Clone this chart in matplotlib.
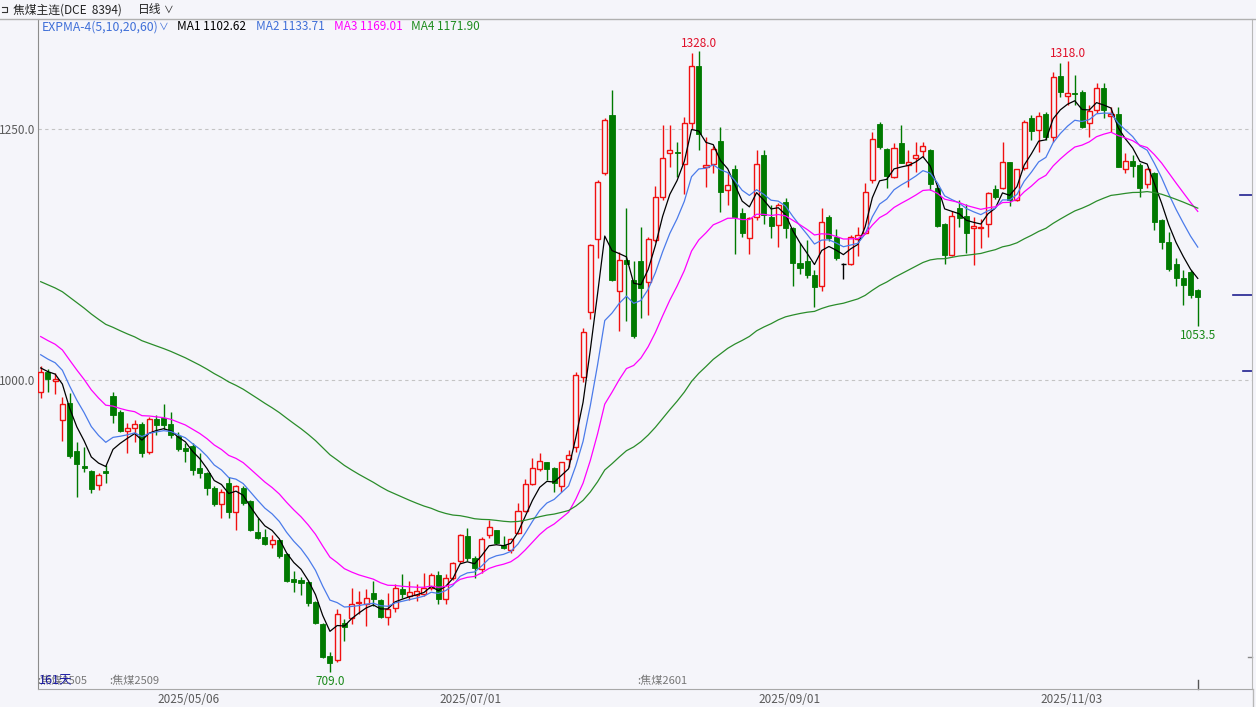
import matplotlib
matplotlib.use('Agg')
import matplotlib.pyplot as plt
import matplotlib.transforms as mtransforms
from matplotlib.lines import Line2D
import numpy as np

plt.rcParams['font.family'] = ['Noto Sans CJK SC', 'DejaVu Sans']

# daily OHLC, 焦煤主连 (161 sessions)
opens = [988, 1008, 999, 960, 977, 929, 914, 909, 895, 909,
         984, 968, 949, 952, 956, 928, 961, 962, 956, 944,
         932, 934, 912, 907, 892, 876, 897, 869, 892, 879,
         849, 844, 837, 841, 827, 802, 801, 799, 779, 757,
         725, 721, 758, 763, 778, 777, 788, 781, 764, 773,
         792, 785, 786, 787, 793, 806, 782, 803, 820, 845,
         823, 812, 846, 851, 836, 831, 848, 870, 896, 911,
         918, 912, 894, 921, 933, 1003, 1068, 1140, 1206, 1264,
         1089, 1120, 1100, 1119, 1098, 1139, 1182, 1226, 1227, 1215,
         1256, 1313, 1212, 1215, 1238, 1189, 1210, 1166, 1141, 1162,
         1224, 1162, 1154, 1177, 1151, 1117, 1119, 1105, 1094, 1162,
         1142, 1116, 1116, 1140, 1146, 1199, 1255, 1230, 1202, 1236,
         1214, 1221, 1228, 1229, 1191, 1155, 1125, 1171, 1163, 1151,
         1151, 1155, 1190, 1191, 1217, 1179, 1211, 1261, 1249, 1265,
         1242, 1303, 1283, 1286, 1287, 1256, 1269, 1291, 1263, 1265,
         1210, 1218, 1214, 1195, 1206, 1159, 1137, 1116, 1102, 1108,
         1090]
highs = [1014, 1011, 1007, 983, 987, 938, 933, 910, 907, 915,
         988, 970, 957, 960, 958, 963, 965, 976, 968, 948,
         937, 937, 927, 908, 894, 891, 903, 895, 894, 880,
         863, 852, 846, 842, 828, 810, 804, 800, 780, 758,
         729, 772, 762, 793, 790, 792, 800, 782, 788, 797,
         807, 800, 797, 808, 808, 810, 807, 819, 847, 853,
         825, 844, 861, 851, 845, 843, 877, 901, 922, 927,
         918, 913, 918, 930, 1008, 1052, 1135, 1199, 1261, 1289,
         1128, 1171, 1119, 1152, 1142, 1193, 1254, 1254, 1237, 1262,
         1326, 1328, 1242, 1233, 1252, 1207, 1214, 1171, 1162, 1229,
         1229, 1174, 1176, 1181, 1152, 1136, 1139, 1110, 1171, 1164,
         1150, 1117, 1144, 1152, 1196, 1247, 1257, 1231, 1236, 1254,
         1229, 1237, 1237, 1230, 1194, 1156, 1168, 1179, 1175, 1162,
         1160, 1187, 1194, 1237, 1217, 1210, 1259, 1264, 1267, 1267,
         1307, 1316, 1318, 1304, 1289, 1274, 1296, 1296, 1272, 1272,
         1226, 1224, 1216, 1211, 1207, 1160, 1147, 1122, 1110, 1110,
         1091]
lows = [982, 988, 986, 939, 922, 883, 908, 887, 890, 897,
        957, 948, 927, 938, 923, 926, 945, 951, 942, 929,
        918, 905, 902, 885, 874, 863, 863, 851, 875, 850,
        842, 836, 833, 823, 799, 789, 786, 775, 757, 723,
        709, 719, 740, 757, 767, 755, 775, 763, 756, 769,
        783, 781, 780, 785, 791, 777, 777, 801, 818, 820,
        803, 808, 843, 837, 832, 828, 847, 869, 895, 909,
        900, 888, 888, 913, 928, 998, 1061, 1122, 1204, 1099,
        1049, 1059, 1042, 1062, 1065, 1137, 1179, 1212, 1202, 1185,
        1250, 1229, 1192, 1206, 1167, 1174, 1126, 1142, 1126, 1159,
        1155, 1141, 1132, 1141, 1094, 1106, 1102, 1073, 1089, 1138,
        1120, 1101, 1115, 1124, 1145, 1196, 1230, 1191, 1201, 1216,
        1192, 1207, 1222, 1189, 1152, 1116, 1124, 1152, 1127, 1115,
        1131, 1142, 1180, 1190, 1173, 1178, 1209, 1239, 1227, 1239,
        1237, 1282, 1274, 1274, 1251, 1242, 1266, 1261, 1247, 1212,
        1206, 1202, 1182, 1191, 1149, 1130, 1109, 1094, 1075, 1082,
        1053.5]
closes = [1008, 1001, 1001, 976, 924, 916, 912, 891, 905, 907,
          965, 949, 952, 956, 927, 961, 955, 955, 945, 931,
          929, 910, 907, 892, 876, 888, 869, 894, 877, 851,
          843, 837, 841, 825, 800, 799, 798, 778, 758, 724,
          718, 767, 754, 777, 779, 783, 782, 764, 772, 793,
          787, 789, 790, 793, 806, 782, 803, 818, 846, 823,
          813, 842, 854, 838, 833, 842, 870, 896, 912, 919,
          911, 897, 918, 925, 1005, 1048, 1134, 1197, 1259, 1100,
          1120, 1116, 1044, 1092, 1140, 1182, 1221, 1229, 1226, 1256,
          1313, 1245, 1214, 1230, 1187, 1194, 1162, 1146, 1161, 1215,
          1164, 1153, 1174, 1151, 1117, 1112, 1105, 1093, 1157, 1141,
          1122, 1116, 1142, 1144, 1187, 1240, 1232, 1203, 1231, 1216,
          1217, 1224, 1233, 1195, 1153, 1125, 1163, 1161, 1146, 1153,
          1152, 1186, 1182, 1217, 1179, 1210, 1257, 1248, 1263, 1242,
          1302, 1287, 1286, 1285, 1252, 1268, 1291, 1269, 1265, 1212,
          1218, 1213, 1191, 1210, 1157, 1137, 1111, 1102, 1095, 1085,
          1083]

# EXPMA periods and their values just before the first visible session
expma_periods = [5, 10, 20, 60]
expma_seeds = [1014, 1029, 1047, 1101]
expma_labels = ['MA1 1102.62', 'MA2 1133.71', 'MA3 1169.01', 'MA4 1171.90']

date_ticks = [20, 59, 103, 142]
date_labels = ['2025/05/06', '2025/07/01', '2025/09/01', '2025/11/03']

contract_rolls = [0, 10, 83]
contract_names = ['焦煤2505', '焦煤2509', '焦煤2601']

right_marks = [1184, 1085, 1009]

bg = '#f5f5fa'
red = '#f01010'
green = '#007a00'
line_colors = ['#000000', '#4b7bea', '#ff00ff', '#2a8c2a']

W, H = 1256, 707
fig = plt.figure(figsize=(W / 100, H / 100), dpi=100, facecolor=bg)
ax = fig.add_axes([38 / W, (H - 689) / H, (1252 - 38) / W, (689 - 19) / H], facecolor=bg)
ax.set_xlim(-0.37, 167.5)
ax.set_ylim(692.2, 1359.6)


def expma(values, n, seed):
    a = 2 / (n + 1)
    out = []
    e = seed
    for v in values:
        e = e + a * (v - e)
        out.append(e)
    return np.array(out)


o = np.array(opens, dtype=float)
h = np.array(highs, dtype=float)
l = np.array(lows, dtype=float)
c = np.array(closes, dtype=float)
x = np.arange(len(c))
up = c > o
dn = c < o
flat = c == o
w = 0.7
top = np.maximum(o, c)
bot = np.minimum(o, c)

# grid
for lvl in (1000, 1250):
    ax.axhline(lvl, color='#c4c4c4', lw=0.8, ls=(0, (3, 3)), zorder=0)

# falling candles
ax.vlines(x[dn], l[dn], h[dn], color=green, lw=1, zorder=2)
ax.bar(x[dn], (o - c)[dn], bottom=c[dn], width=w, color=green, edgecolor=green, lw=0.6, zorder=3)
# rising candles, hollow
ax.vlines(x[up], top[up], h[up], color=red, lw=1, zorder=2)
ax.vlines(x[up], l[up], bot[up], color=red, lw=1, zorder=2)
ax.bar(x[up], (c - o)[up], bottom=o[up], width=w, facecolor=bg, edgecolor=red, lw=1, zorder=3)
# flat
ax.vlines(x[flat], l[flat], h[flat], color='black', lw=1, zorder=2)
ax.hlines(c[flat], x[flat] - w / 2, x[flat] + w / 2, color='black', lw=1, zorder=3)

for n, seed, col in zip(expma_periods, expma_seeds, line_colors):
    ax.plot(x, expma(c, n, seed), color=col, lw=0.9, zorder=4)

# extreme labels
hi_i = int(np.argmax(h[:120]))
hi2_i = 120 + int(np.argmax(h[120:]))
lo_i = int(np.argmin(l))
for i in (hi_i, hi2_i):
    ax.annotate(f'{h[i]:.1f}', (i, h[i]), xytext=(0, 0.5), textcoords='offset points',
                ha='center', va='bottom', color='#e0102a', fontsize=8.5)
ax.annotate(f'{l[lo_i]:.1f}', (lo_i, l[lo_i]), xytext=(0, -2), textcoords='offset points',
            ha='center', va='top', color='#1a8a1a', fontsize=8.5)
last = len(c) - 1
ax.annotate(f'{l[last]:.1f}', (last, l[last]), xytext=(0, -2), textcoords='offset points',
            ha='center', va='top', color='#1a8a1a', fontsize=8.5)

# axes styling
ax.spines['top'].set_visible(False)
ax.spines['left'].set_color('#8c8c8c')
ax.spines['bottom'].set_color('#a8a8a8')
ax.spines['right'].set_color('#b8b8b8')
ax.set_yticks([1000, 1250])
ax.set_yticklabels(['1000.0', '1250.0'])
ax.set_xticks([t + 0.5 for t in date_ticks])
ax.set_xticklabels(date_labels)
ax.tick_params(axis='both', length=0, labelsize=8.5, labelcolor='#5a5a5a')
ax.tick_params(axis='y', pad=2)
ax.tick_params(axis='x', pad=3)

bl = mtransforms.blended_transform_factory(ax.transData, ax.transAxes)
br = mtransforms.blended_transform_factory(ax.transAxes, ax.transData)

# contract roll labels
for i, name in zip(contract_rolls, contract_names):
    ax.text(i - 0.45, 0.012, ':' + name, transform=bl, ha='left', va='center',
            fontsize=8, color='#777777')
ax.text(-0.3, 0.012, '161天', transform=bl, ha='left', va='center', fontsize=9, color='#1a1aa0')
ax.plot([last, last], [0, 0.014], transform=bl, color='#555555', lw=1, clip_on=False)

# right-edge markers
for v, x0 in zip(right_marks, (0.990, 0.984, 0.9926)):
    ax.plot([x0, 1.0], [v, v], transform=br, color='#202090', lw=1.2, clip_on=False)
ax.plot([0.9965, 1.0], [724, 724], transform=br, color='#888888', lw=1, clip_on=False)

# header lines
fig.add_artist(Line2D([0, 1], [1 - 19 / H, 1 - 19 / H], color='#b0b0b0', lw=1))
fig.add_artist(Line2D([1253 / W, 1253 / W], [0, (H - 689) / H], color='#b8b8b8', lw=1))


def px(xp, yp):
    return xp / W, 1 - yp / H


fig.add_artist(Line2D([2 / W, 7 / W, 7 / W, 2 / W], [1 - 7 / H, 1 - 7 / H, 1 - 12 / H, 1 - 12 / H],
                      color='#333333', lw=0.8))
fig.text(*px(13, 10), '焦煤主连(DCE  8394)', fontsize=8.5, color='#222222', va='center')
fig.text(*px(138, 10), '日线', fontsize=8.5, color='#222222', va='center')
fig.text(*px(164, 10), '∨', fontsize=7, color='#222222', va='center')

fig.text(*px(42, 27), 'EXPMA-4(5,10,20,60)', fontsize=8.8, color='#3f6fd8', va='center')
fig.text(*px(159, 27), '∨', fontsize=7, color='#3f6fd8', va='center')
for xp, txt, col in zip((177, 256, 334, 411), expma_labels,
                        ('#000000', '#3f6fd8', '#ff00ff', '#1e8c1e')):
    fig.text(*px(xp, 27), txt, fontsize=8.5, color=col, va='center')

fig.savefig('out.png', dpi=100, facecolor=bg)
